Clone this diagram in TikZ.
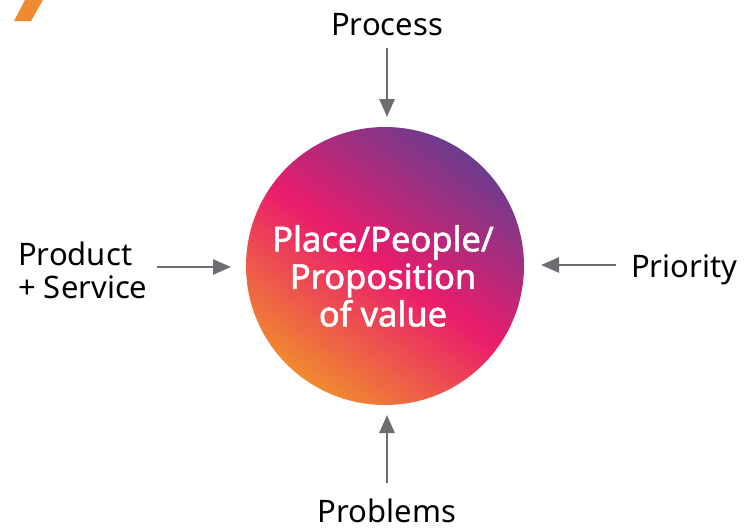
\documentclass[tikz,border=0pt]{standalone}
\usepackage{fontspec}
\setmainfont{Noto Sans}
\newfontfamily\ctfont[FakeBold=1.6]{Noto Sans}
\usetikzlibrary{arrows.meta}
\definecolor{arrgray}{HTML}{6D6E71}
\definecolor{corange}{HTML}{F08A30}
\definecolor{cpink}{HTML}{EA1C6C}
\definecolor{cpurple}{HTML}{6C3C8E}
\tikzset{
  lbl/.style={font=\fontsize{31}{33}\selectfont, text=black, inner sep=0pt},
  arr/.style={draw=arrgray, line width=2.6pt, -{Triangle[length=18pt,width=15pt]}},
  ctext/.style={font=\ctfont\fontsize{34.5}{37.5}\selectfont, text=white, align=center, inner sep=0pt}
}
\begin{document}
\begin{tikzpicture}[x=1pt,y=-1pt]
\useasboundingbox (0,0) rectangle (744,528);
% orange slash
\fill[corange] (25,0) -- (43,0) -- (31,21) -- (14,21) -- cycle;
% circle
\shade[top color=cpurple, bottom color=corange, middle color=cpink, shading angle=-35] (385,266) circle (139);
\node[circle, minimum size=278pt, inner sep=0pt] (c) at (385,266) {};
\node[ctext] (ct) at (383,276) {Place/People/\\Proposition\\of value};
% labels
\node[lbl, anchor=base] (proc) at (387,35) {Process};
\node[lbl, anchor=base] (prob) at (387,522) {Problems};
\node[lbl, anchor=base west] (prio) at (631,277) {Priority};
\node[lbl, anchor=base west, align=left] (prod) at (18,298) {Product\\+ Service};
% arrow endpoints
\coordinate (pt1) at (387,48);
\coordinate (pt2) at (387,117);
\coordinate (pb1) at (387,483);
\coordinate (pb2) at (387,415);
\coordinate (pl1) at (157,267);
\coordinate (pl2) at (231,267);
\coordinate (pr1) at (616,265);
\coordinate (pr2) at (541,265);
\draw[arr] (pt1) -- (pt2);
\draw[arr] (pb1) -- (pb2);
\draw[arr] (pl1) -- (pl2);
\draw[arr] (pr1) -- (pr2);
\end{tikzpicture}
\end{document}
